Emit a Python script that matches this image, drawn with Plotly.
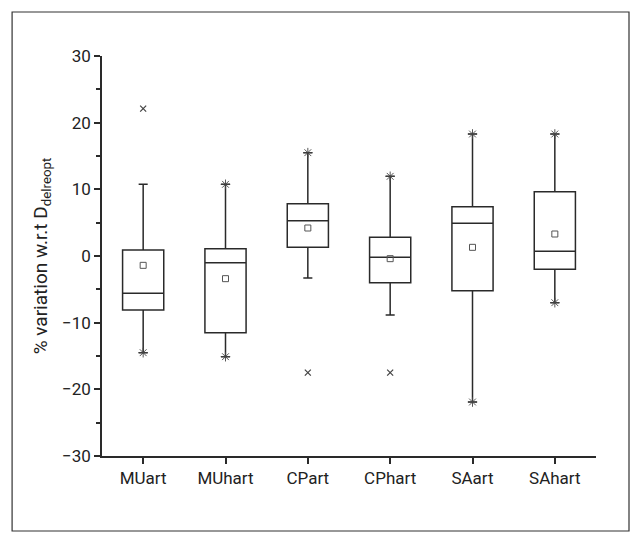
import plotly.graph_objects as go

categories = ["MUart", "MUhart", "CPart", "CPhart", "SAart", "SAhart"]
q1 = [-8.1, -11.5, 1.3, -4.0, -5.2, -2.0]
median = [-5.6, -1.0, 5.3, -0.2, 4.9, 0.7]
q3 = [0.9, 1.1, 7.85, 2.8, 7.4, 9.65]
lower_whisker = [-14.5, -15.1, -3.3, -8.85, -21.9, -7.0]
upper_whisker = [10.75, 10.75, 15.5, 11.95, 18.3, 18.3]
means = [-1.4, -3.4, 4.2, -0.4, 1.3, 3.3]
outlier_cats = ["MUart", "CPart", "CPhart"]
outlier_vals = [22.1, -17.5, -17.5]
star_upper = [False, True, True, True, True, True]
star_lower = [True, True, False, False, True, True]

line_col = "#2a2a2a"
FONT = "Roboto"

fig = go.Figure()
fig.add_trace(go.Box(
    x=categories, q1=q1, median=median, q3=q3,
    lowerfence=lower_whisker, upperfence=upper_whisker,
    boxpoints=False, fillcolor="rgba(0,0,0,0)",
    line=dict(color=line_col, width=1.5),
    width=0.5, whiskerwidth=0.22, showlegend=False,
))

sx = [c for c, f in zip(categories, star_upper) if f] + [c for c, f in zip(categories, star_lower) if f]
sy = [v for v, f in zip(upper_whisker, star_upper) if f] + [v for v, f in zip(lower_whisker, star_lower) if f]
fig.add_trace(go.Scatter(
    x=sx, y=sy, mode="markers", showlegend=False,
    marker=dict(symbol="asterisk-open", size=8, color="#444", line=dict(color="#444", width=0.9)),
))
fig.add_trace(go.Scatter(
    x=categories, y=means, mode="markers", showlegend=False,
    marker=dict(symbol="square-open", size=6, color="#555", line=dict(color="#555", width=1)),
))
fig.add_trace(go.Scatter(
    x=outlier_cats, y=outlier_vals, mode="markers", showlegend=False,
    marker=dict(symbol="x-thin-open", size=6, color="#444", line=dict(color="#444", width=1.2)),
))

fig.update_layout(
    width=642, height=544,
    margin=dict(l=94, r=54, t=48, b=96),
    paper_bgcolor="white", plot_bgcolor="white",
    font=dict(family=FONT, size=17, color="#222"),
    xaxis=dict(
        type="category", categoryorder="array", categoryarray=categories,
        range=[-0.5, 5.5], showline=True, linecolor=line_col, linewidth=1.5,
        ticks="outside", ticklen=6, tickwidth=1.5, tickcolor=line_col,
        showgrid=False, zeroline=False, mirror=False,
    ),
    yaxis=dict(
        range=[-30, 30], tickvals=[-30, -20, -10, 0, 10, 20, 30],
        ticktext=["\u221230", "\u221220", "\u221210", "0", "10", "20", "30"],
        showline=True, linecolor=line_col, linewidth=1.5,
        ticks="outside", ticklen=6, tickwidth=1.5, tickcolor=line_col,
        minor=dict(tickvals=[-25, -15, -5, 5, 15, 25], ticks="outside", ticklen=4, tickwidth=1.5, tickcolor=line_col),
        showgrid=False, zeroline=False,
        title=dict(text="% variation w.r.t D<sub>delreopt</sub>", font=dict(size=19), standoff=9),
    ),
    shapes=[dict(type="rect", xref="paper", yref="paper",
                 x0=-0.182, x1=1.0668, y0=-0.1875, y1=1.11,
                 line=dict(color="#333", width=1.2), fillcolor="rgba(0,0,0,0)")],
)

fig.write_html("out.html")
